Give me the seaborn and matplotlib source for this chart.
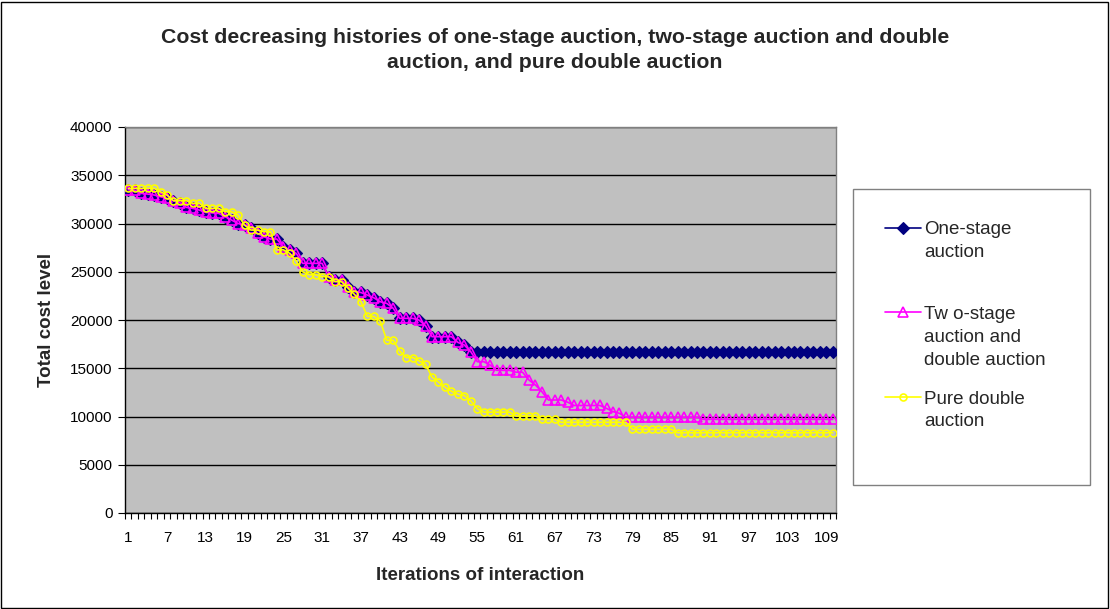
import matplotlib
matplotlib.use("Agg")
import matplotlib.pyplot as plt
import seaborn as sns
import pandas as pd
from matplotlib.patches import Rectangle

iterations = list(range(1, 111))

one_stage = [
    33500, 33450, 33120, 33050, 32950, 32770, 32600, 32360, 32150, 31670,
    31560, 31390, 31150, 31100, 31050, 30700, 30350, 30000, 29840, 29560,
    28970, 28620, 28390, 28390, 27590, 27250, 26900, 25870, 25870, 25870,
    25870, 24480, 24140, 24140, 23450, 22930, 22850, 22580, 22300, 21890,
    21720, 21210, 20170, 20170, 20170, 19990, 19400, 18270, 18270, 18270,
    18270, 17680, 17400, 16710, 16700, 16700, 16700, 16700, 16700, 16700,
    16700, 16700, 16700, 16700, 16700, 16700, 16700, 16700, 16700, 16700,
    16700, 16700, 16700, 16700, 16700, 16700, 16700, 16700, 16700, 16700,
    16700, 16700, 16700, 16700, 16700, 16700, 16700, 16700, 16700, 16700,
    16700, 16700, 16700, 16700, 16700, 16700, 16700, 16700, 16700, 16700,
    16700, 16700, 16700, 16700, 16700, 16700, 16700, 16700, 16700, 16700,
]

two_stage = [
    33500, 33450, 33120, 33050, 32950, 32770, 32600, 32360, 32150, 31670,
    31560, 31390, 31150, 31100, 31050, 30700, 30350, 30000, 29840, 29560,
    28970, 28620, 28390, 28390, 27590, 27250, 26900, 25870, 25870, 25870,
    25870, 24480, 24140, 24140, 23450, 22930, 22850, 22580, 22300, 21890,
    21720, 21210, 20170, 20170, 20170, 19990, 19400, 18270, 18270, 18270,
    18270, 17680, 17400, 16710, 15680, 15680, 15330, 14780, 14780, 14780,
    14590, 14590, 13780, 13260, 12570, 11710, 11710, 11710, 11480, 11140,
    11140, 11140, 11140, 11140, 10840, 10500, 10330, 9910, 9910, 9910,
    9910, 9910, 9910, 9910, 9910, 9910, 9910, 9910, 9910, 9700,
    9700, 9700, 9700, 9700, 9700, 9700, 9700, 9700, 9700, 9700,
    9700, 9700, 9700, 9700, 9700, 9700, 9700, 9700, 9700, 9700,
]

pure_double = [
    33640, 33640, 33640, 33640, 33640, 33290, 32945, 32360, 32360, 32360,
    32085, 32085, 31565, 31565, 31565, 31220, 31220, 30870, 29840, 29320,
    29320, 29150, 29150, 27270, 27270, 26900, 26100, 25000, 24690, 24690,
    24480, 24480, 23970, 23970, 23300, 22650, 21900, 20380, 20380, 19870,
    17900, 17900, 16800, 16110, 16110, 15770, 15420, 14070, 13570, 13040,
    12620, 12310, 12170, 11620, 10800, 10450, 10450, 10450, 10450, 10450,
    10050, 10050, 10050, 10050, 9700, 9700, 9700, 9400, 9400, 9400,
    9400, 9400, 9400, 9400, 9400, 9400, 9400, 9400, 8670, 8670,
    8670, 8670, 8670, 8670, 8670, 8320, 8320, 8320, 8320, 8320,
    8320, 8320, 8320, 8320, 8320, 8320, 8320, 8320, 8320, 8320,
    8320, 8320, 8320, 8320, 8320, 8320, 8320, 8320, 8320, 8320,
]

series_labels = [
    "One-stage\nauction\n",
    "Tw o-stage\nauction and\ndouble auction",
    "Pure double\nauction\n",
]
y_ticks = [0, 5000, 10000, 15000, 20000, 25000, 30000, 35000, 40000]
x_tick_labels = [1, 7, 13, 19, 25, 31, 37, 43, 49, 55, 61, 67, 73, 79, 85, 91, 97, 103, 109]
title_text = ("Cost decreasing histories of one-stage auction, two-stage auction and double\n"
              "auction, and pure double auction")

sns.set_style("white")
plt.rcParams["font.family"] = ["Liberation Sans", "DejaVu Sans"]

W, H = 1110, 609
fig = plt.figure(figsize=(W / 100, H / 100), dpi=100)
fig.patch.set_facecolor("white")
fig.patches.append(Rectangle((1 / W, 1 / H), 1 - 3 / W, 1 - 3 / H, transform=fig.transFigure,
                             fill=False, edgecolor="black", linewidth=1.0))

ax = fig.add_axes([125 / W, 1 - 513 / H, (836 - 125) / W, (513 - 127) / H])
ax.set_facecolor("#C0C0C0")

styles = [
    dict(color="#000080", marker="D", markersize=6.5, markerfacecolor="#000080",
         markeredgecolor="#000080", markeredgewidth=0.8, linewidth=1.2),
    dict(color="#FF00FF", marker="^", markersize=6.5, markerfacecolor="none",
         markeredgecolor="#FF00FF", markeredgewidth=1.2, linewidth=1.2),
    dict(color="#FFFF00", marker="o", markersize=5.0, markerfacecolor="none",
         markeredgecolor="#FFFF00", markeredgewidth=1.2, linewidth=1.2),
]

all_series = [one_stage, two_stage, pure_double]
handles = []
for vals, lab, st in zip(all_series, series_labels, styles):
    df = pd.DataFrame({"iteration": iterations, "cost": vals})
    n_before = len(ax.get_lines())
    sns.lineplot(data=df, x="iteration", y="cost", ax=ax, legend=False, zorder=3, **st)
    handles.append(ax.get_lines()[n_before])

ax.set_xlim(0.5, 110.5)
ax.set_ylim(0, 40000)
ax.set_yticks(y_ticks)
ax.set_yticklabels([str(v) for v in y_ticks])
ax.set_xticks(x_tick_labels)
ax.set_xticklabels([str(v) for v in x_tick_labels])
ax.set_xticks([k + 0.5 for k in range(0, 111)], minor=True)
ax.tick_params(axis="x", which="major", length=0, pad=13, labelsize=11, colors="black")
ax.tick_params(axis="x", which="minor", length=4, width=0.8, direction="out", color="black", bottom=True)
ax.tick_params(axis="y", which="major", length=5, width=0.8, direction="out", pad=4, labelsize=11,
               left=True, colors="black")
ax.yaxis.grid(True, color="black", linewidth=1.0)
ax.set_axisbelow(True)

for side in ["top", "right"]:
    ax.spines[side].set_color("#808080")
    ax.spines[side].set_linewidth(1.0)
for side in ["left", "bottom"]:
    ax.spines[side].set_color("black")
    ax.spines[side].set_linewidth(1.0)

ax.set_xlabel("Iterations of interaction", fontsize=13.5, fontweight="bold", labelpad=16)
ax.set_ylabel("Total cost level", fontsize=13.5, fontweight="bold", labelpad=11)

fig.text(0.5, 1 - 50 / H, title_text, ha="center", va="center", fontsize=15.3,
         fontweight="bold", linespacing=1.35)

leg = fig.legend(handles, series_labels, loc="upper left",
                 bbox_to_anchor=(853 / W, 1 - 190 / H, (1090 - 853) / W, 0.001),
                 mode="expand", borderaxespad=0, fontsize=13.5, frameon=True, fancybox=False,
                 edgecolor="#808080", framealpha=1, handlelength=1.9, handletextpad=0.2,
                 borderpad=1.7, labelspacing=1.17, numpoints=1)
leg.get_frame().set_linewidth(1.0)
for t in leg.get_texts():
    t.set_linespacing(1.45)
for hp in leg._legend_handle_box.get_children()[0].get_children():
    hp.align = "top"
for line in leg.get_lines():
    line.set_linewidth(1.2)

fig.savefig("out.png", dpi=100, facecolor="white")
